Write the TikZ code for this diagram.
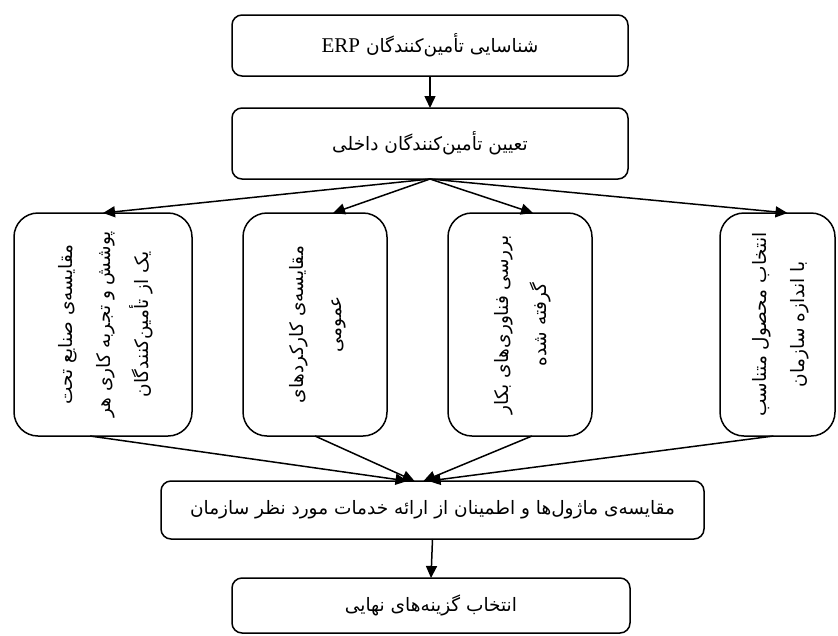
\documentclass[tikz,border=0pt]{standalone}
\usepackage{fontspec}
\TeXXeTstate=1
\newfontfamily\fa[Script=Arabic]{DejaVu Sans}
\newfontfamily\lat{Liberation Serif}
\usetikzlibrary{arrows.meta}
\begin{document}
\begin{tikzpicture}[x=1pt,y=-1pt,
  hbox/.style={draw, line width=1.5pt, rounded corners=10pt, inner sep=0pt, outer sep=0pt,
    minimum width=396pt, font=\fa\fontsize{18.5}{22}\selectfont},
  vbox/.style={draw, line width=1.5pt, rounded corners=24pt, inner sep=0pt, outer sep=0pt,
    minimum height=223pt, font=\fa\fontsize{18.5}{38}\selectfont},
  conn/.style={line width=1.5pt, -{Triangle[length=12pt,width=11pt]}}]
\useasboundingbox (0,0) rectangle (838,635);
\node[hbox, minimum height=61pt] (b1) at (430,45.5) {\beginR شناسایی تأمین‌کنندگان \beginL{\lat\fontsize{21}{22}\selectfont ERP}\endL\endR};
\node[hbox, minimum height=71pt] (b2) at (430,143.5) {\beginR تعیین تأمین‌کنندگان داخلی\endR};
\node[vbox, minimum width=178pt] (A) at (103,324.5) {\rotatebox{90}{\begin{tabular}{@{}c@{}}\beginR مقایسه‌ی صنایع تحت\endR\\ \beginR پوشش و تجربه کاری هر\endR\\ \beginR یک از تأمین‌کنندگان\endR\end{tabular}}};
\node[vbox, minimum width=144pt] (B) at (315,324.5) {\rotatebox{90}{\begin{tabular}{@{}c@{}}\beginR مقایسه‌ی کارکردهای\endR\\ \beginR عمومی\endR\end{tabular}}};
\node[vbox, minimum width=144pt] (C) at (520,324.5) {\rotatebox{90}{\begin{tabular}{@{}c@{}}\beginR بررسی فناوری‌های بکار\endR\\ \beginR گرفته شده\endR\end{tabular}}};
\node[vbox, minimum width=115pt] (D) at (777.5,324.5) {\rotatebox{90}{\begin{tabular}{@{}c@{}}\beginR انتخاب محصول متناسب\endR\\ \beginR با اندازه سازمان\endR\end{tabular}}};
\node[hbox, minimum width=543pt, minimum height=58pt] (b5) at (432.5,510) {\beginR مقایسه‌ی ماژول‌ها و اطمینان از ارائه خدمات مورد نظر سازمان\endR};
\node[hbox, minimum width=398pt, minimum height=55pt] (b6) at (431,605.5) {\beginR انتخاب گزینه‌های نهایی\endR};
\draw[conn] (b1.south) -- (b2.north);
\draw[conn] (b2.south) -- (A.north);
\draw[conn] (b2.south) -- ([xshift=18pt]B.north);
\draw[conn] (b2.south) -- ([xshift=13pt]C.north);
\draw[conn] (b2.south) -- ([xshift=10pt]D.north);
\draw[conn] ([xshift=-13pt]A.south) -- ([xshift=-25pt]b5.north);
\draw[conn] (B.south) -- ([xshift=-18pt]b5.north);
\draw[conn] ([xshift=12pt]C.south) -- ([xshift=-9pt]b5.north);
\draw[conn] ([xshift=-4pt]D.south) -- ([xshift=-4pt]b5.north);
\draw[conn] (b5.south) -- (b6.north);
\end{tikzpicture}
\end{document}
